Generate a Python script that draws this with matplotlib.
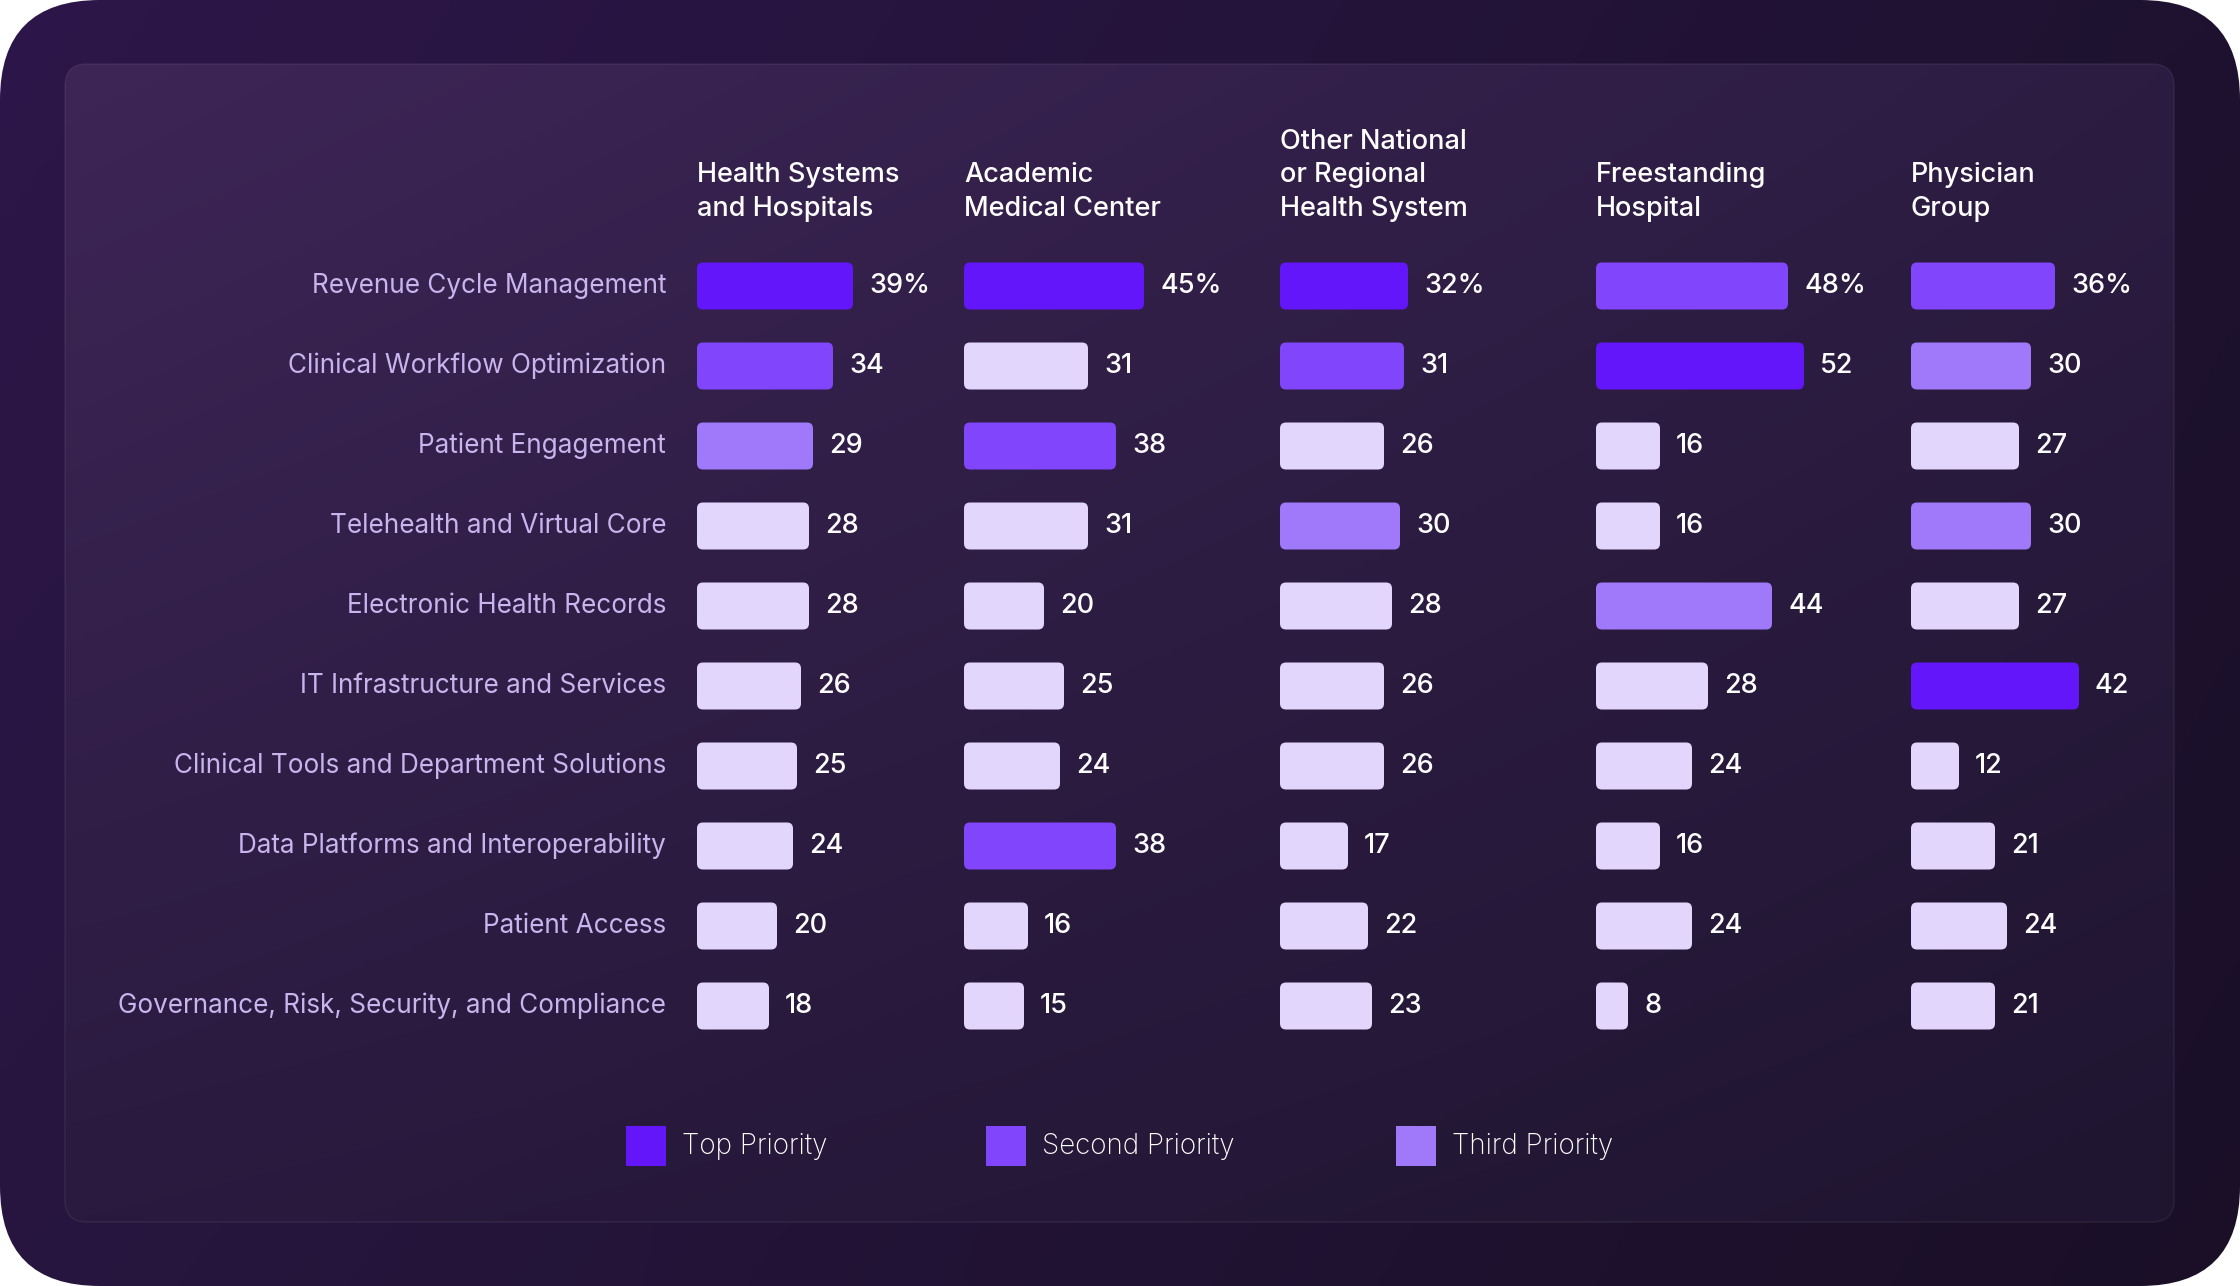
import numpy as np
import matplotlib
matplotlib.use("Agg")
import matplotlib.pyplot as plt
from matplotlib.patches import FancyBboxPatch, Rectangle

# ---------------- data ----------------
categories = [
    "Revenue Cycle Management",
    "Clinical Workflow Optimization",
    "Patient Engagement",
    "Telehealth and Virtual Core",
    "Electronic Health Records",
    "IT Infrastructure and Services",
    "Clinical Tools and Department Solutions",
    "Data Platforms and Interoperability",
    "Patient Access",
    "Governance, Risk, Security, and Compliance",
]
segments = [
    "Health Systems\nand Hospitals",
    "Academic\nMedical Center",
    "Other National\nor Regional\nHealth System",
    "Freestanding\nHospital",
    "Physician\nGroup",
]
health_systems = [39, 34, 29, 28, 28, 26, 25, 24, 20, 18]
academic = [45, 31, 38, 31, 20, 25, 24, 38, 16, 15]
other_national = [32, 31, 26, 30, 28, 26, 26, 17, 22, 23]
freestanding = [48, 52, 16, 16, 44, 28, 24, 16, 24, 8]
physician = [36, 30, 27, 30, 27, 42, 12, 21, 24, 21]
series = [health_systems, academic, other_national, freestanding, physician]
legend_labels = ["Top Priority", "Second Priority", "Third Priority"]

# ---------------- style ----------------
W, H = 2240, 1286
DPI = 100
PRIORITY_COLORS = ["#6216F9", "#8146FB", "#A078FA"]
OTHER_COLOR = "#E2D6FC"
LABEL_COLOR = "#C9B5EE"
FONT = ["Inter", "DejaVu Sans"]
plt.rcParams["font.family"] = FONT

fig = plt.figure(figsize=(W / DPI, H / DPI), dpi=DPI)
fig.patch.set_facecolor("white")

# background axes in pixel units
bg = fig.add_axes([0, 0, 1, 1])
bg.set_xlim(0, W)
bg.set_ylim(H, 0)
bg.axis("off")


def gradient(c_tl, c_tr, c_bl, c_br, n=200):
    cols = [np.array(matplotlib.colors.to_rgb(c)) for c in (c_tl, c_tr, c_bl, c_br)]
    u = np.linspace(0, 1, n)[None, :, None]
    v = np.linspace(0, 1, n)[:, None, None]
    top = cols[0] * (1 - u) + cols[1] * u
    bot = cols[2] * (1 - u) + cols[3] * u
    return top * (1 - v) + bot * v


outer = FancyBboxPatch((0, 0), W, H, boxstyle="round,pad=0,rounding_size=100",
                       facecolor="none", edgecolor="none", transform=bg.transData)
bg.add_patch(outer)
im = bg.imshow(gradient("#2d1649", "#1e1230", "#27163f", "#1a0f27"),
               extent=(0, W, H, 0), aspect="auto", interpolation="bicubic", zorder=0)
im.set_clip_path(outer)

px0, py0, px1, py1 = 65, 64, 2174, 1222
panel = FancyBboxPatch((px0, py0), px1 - px0, py1 - py0,
                       boxstyle="round,pad=0,rounding_size=22",
                       facecolor="none", edgecolor="#ffffff", linewidth=1.0, alpha=0.07,
                       transform=bg.transData, zorder=2)
bg.add_patch(panel)
clip_panel = FancyBboxPatch((px0, py0), px1 - px0, py1 - py0,
                            boxstyle="round,pad=0,rounding_size=22",
                            facecolor="none", edgecolor="none", transform=bg.transData)
bg.add_patch(clip_panel)
im2 = bg.imshow(gradient("#3e2657", "#2c1c42", "#2a1a3f", "#1f1530"),
                extent=(px0, px1, py1, py0), aspect="auto", interpolation="bicubic", zorder=1)
im2.set_clip_path(clip_panel)
bg.set_xlim(0, W)
bg.set_ylim(H, 0)


def fx(p):
    return p / W


def fy(p):
    return 1 - p / H


# ---------------- columns ----------------
col_left = [697, 964, 1280, 1596, 1911]
col_width = 260
px_per_unit = 4.0
row_top, row_step = 246, 80
n = len(categories)
bar_h = 47 / row_step
radius_units = 6 / px_per_unit
aspect = (1 / row_step) / (1 / px_per_unit)

axes = []
for j, (vals, seg) in enumerate(zip(series, segments)):
    ax = fig.add_axes([fx(col_left[j]), fy(row_top + n * row_step),
                       fx(col_width), n * row_step / H])
    ax.set_xlim(0, col_width / px_per_unit)
    ax.set_ylim(n - 0.5, -0.5)
    ax.axis("off")
    ax.patch.set_alpha(0)
    ranks = [1 + sum(1 for o in vals if o > v) for v in vals]
    for i, v in enumerate(vals):
        color = PRIORITY_COLORS[ranks[i] - 1] if ranks[i] <= 3 else OTHER_COLOR
        p = FancyBboxPatch((0, i - bar_h / 2), v, bar_h,
                           boxstyle=f"round,pad=0,rounding_size={radius_units}",
                           mutation_aspect=aspect, facecolor=color, edgecolor="none")
        ax.add_patch(p)
        txt = f"{v}%" if i == 0 else f"{v}"
        ax.text(v + 16 / px_per_unit, i, txt, va="center", ha="left",
                color="white", fontsize=19.5, fontweight="medium")
    # header
    fig.text(fx(col_left[j]), fy(222), seg, ha="left", va="bottom", color="white",
             fontsize=19.5, fontweight="medium", linespacing=1.38)
    axes.append(ax)

# row labels
for i, cat in enumerate(categories):
    axes[0].text(-(col_left[0] - 666) / px_per_unit, i, cat, ha="right", va="center",
                 color=LABEL_COLOR, fontsize=18.8)

# ---------------- legend ----------------
leg_sq_x = [626, 986, 1396]
leg_y = 1146
for k, lab in enumerate(legend_labels):
    bg.add_patch(Rectangle((leg_sq_x[k], leg_y - 20), 40, 40,
                           facecolor=PRIORITY_COLORS[k], edgecolor="none", zorder=3))
    bg.text(leg_sq_x[k] + 56, leg_y, lab, ha="left", va="center", color="white",
            fontsize=20, fontweight="light", zorder=3)

fig.savefig("out.png", dpi=DPI, facecolor="white")
